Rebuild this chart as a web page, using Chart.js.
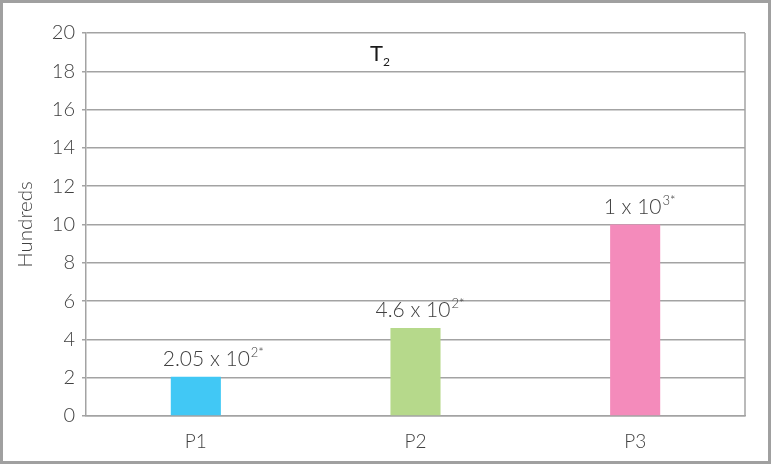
<!DOCTYPE html>
<html lang="en">
<head>
<meta charset="UTF-8">
<title>T2</title>
<style>
  html, body { margin: 0; padding: 0; background: #fff; }
  #wrap { width: 771px; height: 464px; }
</style>
<script src="https://cdn.jsdelivr.net/npm/chart.js"></script>
</head>
<body>
<div id="wrap"><canvas id="chart" width="771" height="464"></canvas></div>
<script>
const categories = ['P1', 'P2', 'P3'];
const values = [2.05, 4.6, 10];
const barColors = ['#41c8f5', '#b6d98b', '#f48bbb'];
const labelMain = ['2.05 x 10', '4.6 x 10', '1 x 10'];
const labelSup = ['2*', '2*', '3*'];
const yTicks = [0, 2, 4, 6, 8, 10, 12, 14, 16, 18, 20];

const FONT = 'Lato, "Open Sans", sans-serif';
const GRID = '#a3a3a3';
const labelShift = [17, 4, 4]; // labels sit a bit right of the bars in the original

// frame, right edge of plot, title and bar labels
const extras = {
  id: 'extras',
  afterDraw(chart) {
    const ctx = chart.ctx;
    const a = chart.chartArea;
    ctx.save();
    ctx.strokeStyle = '#a0a0a0';
    ctx.lineWidth = 3;
    ctx.strokeRect(1.5, 1.5, chart.width - 3, chart.height - 3);

    ctx.strokeStyle = GRID;
    ctx.lineWidth = 1.5;
    ctx.beginPath();
    ctx.moveTo(a.right, a.top);
    ctx.lineTo(a.right, a.bottom);
    ctx.stroke();

    // title T2
    ctx.fillStyle = '#1a1a1a';
    ctx.textBaseline = 'alphabetic';
    ctx.textAlign = 'left';
    ctx.font = '400 22px ' + FONT;
    ctx.fillText('T', 370, 61);
    ctx.font = '400 12px ' + FONT;
    ctx.fillText('2', 383, 66);

    // value labels
    const meta = chart.getDatasetMeta(0);
    meta.data.forEach((bar, i) => {
      ctx.font = '300 21px ' + FONT;
      const w1 = ctx.measureText(labelMain[i]).width;
      ctx.font = '300 13px ' + FONT;
      const w2 = ctx.measureText(labelSup[i]).width;
      const x0 = bar.x + labelShift[i] - (w1 + w2) / 2;
      const yb = bar.y - 11;
      ctx.fillStyle = '#404040';
      ctx.font = '300 21px ' + FONT;
      ctx.fillText(labelMain[i], x0, yb);
      ctx.font = '300 13px ' + FONT;
      ctx.fillText(labelSup[i], x0 + w1 + 1, yb - 9);
    });
    ctx.restore();
  }
};

new Chart(document.getElementById('chart'), {
  type: 'bar',
  data: {
    labels: categories,
    datasets: [{
      data: values,
      backgroundColor: barColors,
      borderWidth: 0,
      barPercentage: 0.228,
      categoryPercentage: 1
    }]
  },
  options: {
    responsive: false,
    animation: false,
    events: [],
    layout: { padding: { top: 33, right: 26, left: 0, bottom: 0 } },
    plugins: { legend: { display: false }, tooltip: { enabled: false } },
    scales: {
      x: {
        grid: { display: false },
        border: { display: true, color: GRID, width: 1.5 },
        ticks: { color: '#404040', font: { family: FONT, size: 19, weight: '300' }, padding: 6 },
        afterFit(scale) { scale.height = 48; }
      },
      y: {
        min: 0,
        max: 20,
        afterBuildTicks(scale) { scale.ticks = yTicks.map(v => ({ value: v })); },
        grid: { color: GRID, lineWidth: 1.5, tickLength: 4, drawTicks: true },
        border: { display: true, color: GRID, width: 1.5 },
        ticks: { color: '#404040', font: { family: FONT, size: 20, weight: '300' }, padding: 7 },
        title: {
          display: true,
          text: 'Hundreds',
          color: '#404040',
          font: { family: FONT, size: 20.5, weight: '300' },
          padding: { top: 13, bottom: 0 }
        },
        afterFit(scale) { scale.width = 86; }
      }
    }
  },
  plugins: [extras]
});
</script>
</body>
</html>
